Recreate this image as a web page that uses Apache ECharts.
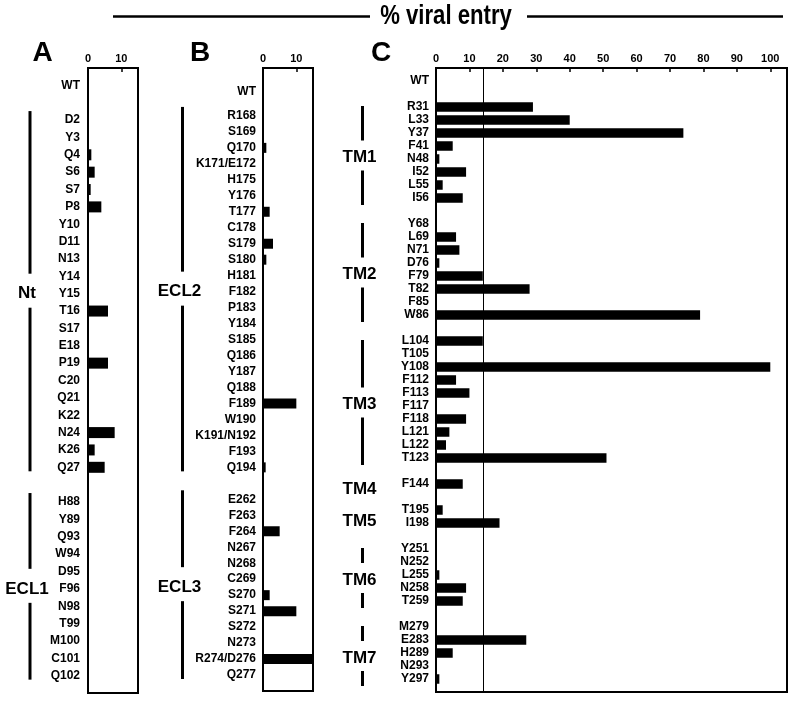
<!DOCTYPE html>
<html><head><meta charset="utf-8">
<script src="https://cdn.jsdelivr.net/npm/echarts@6/dist/echarts.min.js"></script>
<style>html,body{margin:0;padding:0;background:#fff}#c{width:800px;height:705px}</style>
</head><body><div id="c"></div>
<script>
const FONT = '"Liberation Sans", Arial, Helvetica, sans-serif';

// ---------- DATA ----------
const titleText = '% viral entry';
const panelLetters = ['A', 'B', 'C'];

// Panel A
const aWT = ['WT'];
const aNt = ['D2','Y3','Q4','S6','S7','P8','Y10','D11','N13','Y14','Y15','T16','S17','E18','P19','C20','Q21','K22','N24','K26','Q27'];
const aNtVal = [0,0,1,2,0.8,4,0,0,0,0,0,6,0,0,6,0,0,0,8,2,5];
const aECL1 = ['H88','Y89','Q93','W94','D95','F96','N98','T99','M100','C101','Q102'];
const aECL1Val = [0,0,0,0,0,0,0,0,0,0,0];
const aTicks = [0, 10];

// Panel B
const bWT = ['WT'];
const bECL2 = ['R168','S169','Q170','K171/E172','H175','Y176','T177','C178','S179','S180','H181','F182','P183','Y184','S185','Q186','Y187','Q188','F189','W190','K191/N192','F193','Q194'];
const bECL2Val = [0,0,1,0,0,0,2,0,3,1,0,0,0,0,0,0,0,0,10,0,0,0,0.8];
const bECL3 = ['E262','F263','F264','N267','N268','C269','S270','S271','S272','N273','R274/D276','Q277'];
const bECL3Val = [0,0,5,0,0,0,2,10,0,0,15,0];
const bTicks = [0, 10];

// Panel C
const cWT = ['WT'];
const cTM1 = ['R31','L33','Y37','F41','N48','I52','L55','I56'];
const cTM1Val = [29,40,74,5,1,9,2,8];
const cTM2 = ['Y68','L69','N71','D76','F79','T82','F85','W86'];
const cTM2Val = [0,6,7,1,14,28,0,79];
const cTM3 = ['L104','T105','Y108','F112','F113','F117','F118','L121','L122','T123'];
const cTM3Val = [14,0,100,6,10,0,9,4,3,51];
const cTM4 = ['F144'];
const cTM4Val = [8];
const cTM5 = ['T195','I198'];
const cTM5Val = [2,19];
const cTM6 = ['Y251','N252','L255','N258','T259'];
const cTM6Val = [0,0,1,9,8];
const cTM7 = ['M279','E283','H289','N293','Y297'];
const cTM7Val = [0,27,5,0,1];
const cTicks = [0,10,20,30,40,50,60,70,80,90,100];
const cThreshold = 14;

// ---------- LAYOUT HELPERS ----------
function layout(blocks, per, tail) {
  const placed = [];
  let pos = 0;
  const groups = [];
  blocks.forEach(b => {
    pos += b.gap;
    const first = pos;
    b.names.forEach((n, i) => {
      if (i > 0) pos += per;
      placed.push({ pos, name: n, value: b.values ? b.values[i] : null });
    });
    groups.push({ label: b.label, first, last: pos, lines: b.lines });
  });
  const total = pos + tail;
  const cats = [], data = [];
  for (let i = 0; i <= total; i++) { cats.push('#' + i); data.push('-'); }
  placed.forEach(p => {
    cats[p.pos] = p.name;
    data[p.pos] = (p.value == null) ? '-' : p.value;
  });
  return { cats, data, groups };
}

const LA = layout([
  { gap: 1, names: aWT, values: null },
  { gap: 2, names: aNt, values: aNtVal, label: 'Nt', lines: true },
  { gap: 2, names: aECL1, values: aECL1Val, label: 'ECL1', lines: true }
], 1, 1);
const LB = layout([
  { gap: 3, names: bWT, values: null },
  { gap: 3, names: bECL2, values: bECL2Val, label: 'ECL2', lines: true },
  { gap: 4, names: bECL3, values: bECL3Val, label: 'ECL3', lines: true }
], 2, 2);
const LC = layout([
  { gap: 1, names: cWT, values: null },
  { gap: 2, names: cTM1, values: cTM1Val, label: 'TM1', lines: true },
  { gap: 2, names: cTM2, values: cTM2Val, label: 'TM2', lines: true },
  { gap: 2, names: cTM3, values: cTM3Val, label: 'TM3', lines: true },
  { gap: 2, names: cTM4, values: cTM4Val, label: 'TM4', lines: false },
  { gap: 2, names: cTM5, values: cTM5Val, label: 'TM5', lines: false },
  { gap: 2, names: cTM6, values: cTM6Val, label: 'TM6', lines: true },
  { gap: 2, names: cTM7, values: cTM7Val, label: 'TM7', lines: true }
], 1, 1);

const panels = [
  { L: LA, grid: { left: 88, top: 68, width: 50, height: 625 }, max: 15, ticks: aTicks, barW: 11, labelMargin: 8,
    lineX: 30, letterX: 42.5, labelDy: 0, gapAbove: 20, gapBelow: 14, ext0: 9, ext1: 4 },
  { L: LB, grid: { left: 263, top: 68, width: 50, height: 623 }, max: 15, ticks: bTicks, barW: 10, labelMargin: 7,
    lineX: 182.5, letterX: 200, labelDy: 0, gapAbove: 20, gapBelow: 14, ext0: 9, ext1: 4 },
  { L: LC, grid: { left: 436, top: 68, width: 351, height: 624 }, max: 105, ticks: cTicks, barW: 9.5, labelMargin: 7,
    lineX: 362.5, letterX: 381, labelDy: 5, gapAbove: 17, gapBelow: 13, ext0: 1, ext1: 7 }
];

const chart = echarts.init(document.getElementById('c'), null, { renderer: 'canvas' });

const option = {
  animation: false,
  backgroundColor: '#fff',
  textStyle: { fontFamily: FONT },
  grid: panels.map(p => Object.assign({
    show: true, borderColor: '#000', borderWidth: 2, backgroundColor: 'transparent',
    containLabel: false, outerBoundsMode: 'none'
  }, p.grid)),
  xAxis: panels.map((p, i) => ({
    gridIndex: i, type: 'value', position: 'top', min: 0, max: p.max, interval: 10,
    axisLine: { show: true, lineStyle: { color: '#000', width: 2 } },
    axisTick: { show: true, inside: true, length: 4, lineStyle: { color: '#000', width: 1.5 } },
    splitLine: { show: false },
    axisLabel: {
      show: true, margin: 4, color: '#000', fontSize: 11, fontWeight: 'bold', fontFamily: FONT,
      showMaxLabel: true,
      formatter: v => (p.ticks.indexOf(v) >= 0 ? String(v) : '')
    }
  })),
  yAxis: panels.map((p, i) => ({
    gridIndex: i, type: 'category', inverse: true, boundaryGap: false, data: p.L.cats,
    axisLine: { show: true, lineStyle: { color: '#000', width: 2 } },
    axisTick: { show: false },
    splitLine: { show: false },
    axisLabel: {
      interval: 0, margin: p.labelMargin, color: '#000', fontSize: 12, fontWeight: 'bold', fontFamily: FONT,
      formatter: n => (n.charAt(0) === '#' ? '' : n)
    }
  })),
  series: panels.map((p, i) => {
    const s = {
      type: 'bar', xAxisIndex: i, yAxisIndex: i, data: p.L.data,
      barWidth: p.barW, barMinWidth: p.barW,
      itemStyle: { color: '#000' }, silent: true
    };
    if (i === 2) {
      s.markLine = {
        silent: true, symbol: 'none', label: { show: false },
        lineStyle: { color: '#000', width: 1, type: 'solid' },
        data: [{ xAxis: cThreshold }]
      };
    }
    return s;
  })
};
chart.setOption(option);

// ---------- ANNOTATIONS ----------
const g = [];
// Title with lines
g.push({ type: 'line', shape: { x1: 113, y1: 16.5, x2: 370, y2: 16.5 }, style: { stroke: '#000', lineWidth: 2.5 } });
g.push({ type: 'line', shape: { x1: 527, y1: 16.5, x2: 783, y2: 16.5 }, style: { stroke: '#000', lineWidth: 2.5 } });
g.push({ type: 'text', x: 446, y: 17, scaleX: 0.82,
  style: { text: titleText, font: 'bold 27px ' + FONT, fill: '#000', textAlign: 'center', textVerticalAlign: 'middle', align: 'center', verticalAlign: 'middle' } });

panels.forEach((p, i) => {
  g.push({ type: 'text', x: p.letterX, y: 53,
    style: { text: panelLetters[i], font: 'bold 28px ' + FONT, fill: '#000', textAlign: 'center', textVerticalAlign: 'middle', align: 'center', verticalAlign: 'middle' } });
  p.L.groups.forEach(gr => {
    if (!gr.label) return;
    const y0 = chart.convertToPixel({ yAxisIndex: i }, gr.first);
    const y1 = chart.convertToPixel({ yAxisIndex: i }, gr.last);
    const ly = (y0 + y1) / 2 + p.labelDy;
    g.push({ type: 'text', x: p.lineX - 3, y: ly,
      style: { text: gr.label, font: 'bold 17px ' + FONT, fill: '#000', textAlign: 'center', textVerticalAlign: 'middle', align: 'center', verticalAlign: 'middle' } });
    if (gr.lines) {
      g.push({ type: 'line', shape: { x1: p.lineX, y1: y0 - p.ext0, x2: p.lineX, y2: ly - p.gapAbove }, style: { stroke: '#000', lineWidth: 3 } });
      g.push({ type: 'line', shape: { x1: p.lineX, y1: ly + p.gapBelow, x2: p.lineX, y2: y1 + p.ext1 }, style: { stroke: '#000', lineWidth: 3 } });
    }
  });
});
chart.setOption({ graphic: g });
</script></body></html>
